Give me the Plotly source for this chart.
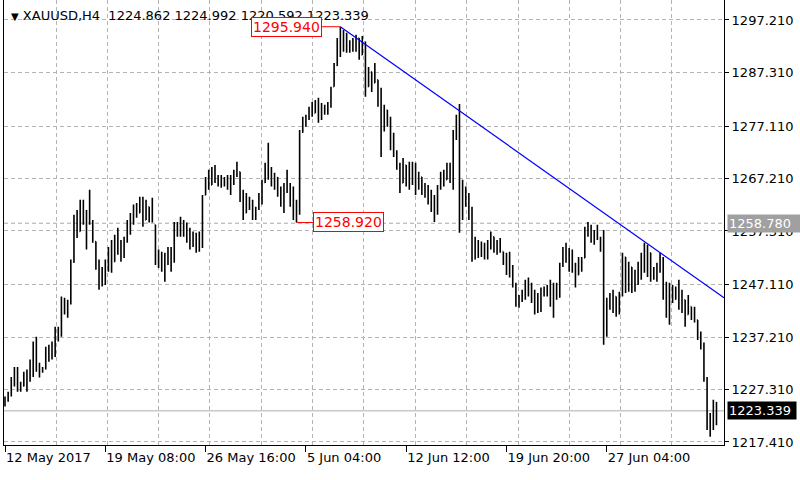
import plotly.graph_objects as go

# XAUUSD H4 bars (oldest first)
symbol = "XAUUSD"
timeframe = "H4"

bar_open = [
    1224.5, 1225.6, 1226.5, 1229.2, 1228.5, 1228.6, 1228.0, 1230.1, 1229.0, 1232.5,
    1235.6, 1231.4, 1230.8, 1231.3, 1234.6, 1233.5, 1235.9, 1238.7, 1237.6, 1243.8,
    1242.3, 1243.9, 1251.4, 1258.8, 1257.2, 1262.0, 1259.6, 1259.3, 1259.0, 1255.3,
    1251.2, 1247.3, 1249.8, 1250.6, 1253.5, 1251.5, 1255.9, 1253.6, 1254.9, 1255.7,
    1258.7, 1259.9, 1261.5, 1260.7, 1263.1, 1259.4, 1261.9, 1259.8, 1258.5, 1251.8,
    1252.9, 1250.4, 1252.6, 1251.6, 1253.8, 1258.3, 1257.0, 1258.9, 1257.4, 1256.2,
    1254.6, 1256.3, 1254.2, 1255.0, 1264.1, 1266.9, 1266.0, 1268.7, 1266.9, 1267.2,
    1266.1, 1267.0, 1265.6, 1267.3, 1268.2, 1268.5, 1263.5, 1260.7, 1263.6, 1261.8,
    1260.2, 1261.5, 1263.9, 1266.5, 1269.3, 1268.2, 1266.6, 1267.4, 1264.5, 1263.0,
    1265.8, 1265.0, 1262.6, 1260.8, 1261.0, 1276.0, 1278.1, 1278.5, 1280.2, 1279.6,
    1281.5, 1279.0, 1280.9, 1280.0, 1281.2, 1284.6, 1288.6, 1293.1, 1291.4, 1294.2,
    1291.9, 1292.9, 1292.0, 1293.8, 1290.6, 1293.1, 1284.6, 1287.4, 1285.3, 1285.9,
    1281.6, 1277.2, 1280.2, 1278.0, 1273.2, 1271.9, 1269.5, 1266.4, 1269.8, 1266.8,
    1269.6, 1266.9, 1265.3, 1267.5, 1264.9, 1265.7, 1263.0, 1261.8, 1263.2, 1265.4,
    1267.8, 1267.0, 1269.6, 1267.2, 1275.6, 1278.4, 1262.3, 1265.2, 1262.6, 1260.3,
    1252.6, 1255.4, 1253.1, 1254.6, 1252.7, 1255.0, 1256.2, 1254.0, 1255.1, 1253.4,
    1251.5, 1252.7, 1249.3, 1247.2, 1243.6, 1244.6, 1245.7, 1247.4, 1245.6, 1244.2,
    1242.3, 1244.9, 1245.8, 1245.3, 1246.6, 1243.8, 1246.8, 1245.0, 1250.8, 1253.7,
    1252.0, 1253.3, 1250.1, 1249.0, 1251.8, 1252.2, 1257.4, 1258.2, 1255.9, 1256.8,
    1255.8, 1254.3, 1238.2, 1243.9, 1243.0, 1244.9, 1242.2, 1245.1, 1252.4, 1246.5,
    1250.5, 1246.4, 1249.2, 1250.7, 1252.5, 1250.3, 1253.2, 1248.6, 1249.9, 1250.6,
    1252.1, 1245.0, 1242.1, 1246.3, 1244.4, 1246.0, 1243.2, 1244.3, 1241.5, 1243.0,
    1241.2, 1240.5, 1237.5, 1235.6, 1229.5, 1220.8, 1222.1, 1224.862,
]
bar_high = [
    1226.0, 1226.9, 1229.7, 1231.6, 1231.6, 1228.8, 1230.7, 1231.1, 1233.0, 1236.4,
    1237.3, 1232.4, 1231.6, 1235.4, 1235.8, 1236.4, 1239.2, 1239.2, 1244.9, 1244.7,
    1244.3, 1251.9, 1260.4, 1261.3, 1263.2, 1263.2, 1261.3, 1265.1, 1259.4, 1255.3,
    1251.9, 1250.5, 1251.9, 1254.3, 1255.6, 1256.6, 1257.9, 1255.6, 1256.2, 1259.4,
    1260.7, 1262.3, 1262.6, 1263.8, 1263.8, 1263.2, 1261.9, 1263.6, 1258.5, 1253.8,
    1253.4, 1253.2, 1254.3, 1254.3, 1259.0, 1259.0, 1260.0, 1259.4, 1258.9, 1257.9,
    1257.2, 1257.0, 1257.2, 1264.1, 1267.5, 1268.9, 1269.4, 1269.8, 1267.9, 1267.9,
    1267.5, 1267.9, 1267.9, 1268.9, 1270.4, 1268.5, 1265.1, 1264.5, 1263.8, 1263.2,
    1261.9, 1264.5, 1267.0, 1270.2, 1274.0, 1269.4, 1268.3, 1267.5, 1265.7, 1266.4,
    1268.9, 1266.4, 1265.7, 1263.2, 1276.4, 1278.9, 1279.3, 1280.8, 1281.7, 1282.1,
    1282.5, 1281.5, 1281.2, 1281.7, 1284.6, 1289.1, 1293.8, 1295.94, 1295.3, 1294.8,
    1293.4, 1293.8, 1294.4, 1293.8, 1294.2, 1293.1, 1288.3, 1287.4, 1289.1, 1285.9,
    1284.4, 1281.2, 1280.2, 1278.9, 1275.9, 1272.6, 1270.2, 1271.1, 1269.8, 1270.4,
    1270.4, 1270.2, 1268.5, 1267.5, 1266.4, 1266.0, 1265.1, 1264.1, 1266.0, 1268.5,
    1268.9, 1270.2, 1270.2, 1276.4, 1279.3, 1281.3, 1267.0, 1265.7, 1264.5, 1261.9,
    1256.2, 1255.6, 1255.3, 1255.1, 1255.6, 1257.2, 1256.2, 1255.6, 1256.0, 1253.4,
    1253.2, 1253.4, 1250.9, 1247.5, 1245.2, 1246.2, 1248.1, 1248.5, 1247.5, 1246.2,
    1245.6, 1246.6, 1246.8, 1247.1, 1248.1, 1247.5, 1247.5, 1251.3, 1254.3, 1255.1,
    1254.1, 1253.8, 1251.3, 1252.4, 1252.4, 1258.1, 1259.0, 1258.5, 1257.5, 1258.5,
    1256.2, 1257.5, 1244.7, 1245.6, 1246.2, 1244.9, 1245.8, 1253.2, 1252.4, 1251.5,
    1250.5, 1250.0, 1251.5, 1253.2, 1255.1, 1254.7, 1253.2, 1250.5, 1251.3, 1253.2,
    1252.4, 1247.7, 1247.5, 1247.1, 1246.8, 1248.1, 1246.2, 1244.3, 1245.2, 1243.0,
    1243.0, 1240.5, 1238.3, 1236.2, 1229.7, 1222.9, 1225.4, 1224.992,
]
bar_low = [
    1224.1, 1225.0, 1226.0, 1227.9, 1226.9, 1226.9, 1227.9, 1226.9, 1228.8, 1229.7,
    1230.7, 1229.6, 1230.5, 1231.1, 1232.6, 1233.0, 1233.5, 1236.4, 1237.3, 1241.5,
    1240.9, 1243.4, 1251.3, 1256.0, 1257.2, 1258.5, 1253.8, 1258.5, 1255.1, 1250.0,
    1246.2, 1246.8, 1247.1, 1249.6, 1249.4, 1251.5, 1252.8, 1251.5, 1252.2, 1255.1,
    1256.6, 1258.5, 1259.8, 1260.7, 1258.1, 1259.4, 1258.9, 1258.9, 1250.9, 1250.3,
    1249.6, 1247.7, 1250.9, 1249.6, 1251.3, 1256.2, 1256.2, 1256.2, 1255.1, 1253.8,
    1254.3, 1253.2, 1253.4, 1254.1, 1264.1, 1265.1, 1266.0, 1266.4, 1265.7, 1265.5,
    1265.7, 1265.1, 1264.1, 1266.0, 1267.5, 1262.8, 1259.4, 1260.7, 1261.3, 1259.4,
    1259.4, 1261.3, 1262.3, 1266.4, 1267.0, 1265.7, 1265.1, 1263.8, 1261.9, 1260.7,
    1264.5, 1261.9, 1259.4, 1258.92, 1260.4, 1275.9, 1277.0, 1278.3, 1278.9, 1279.6,
    1277.8, 1278.3, 1279.3, 1279.3, 1280.6, 1284.6, 1288.5, 1290.2, 1291.2, 1291.0,
    1291.0, 1291.2, 1291.2, 1289.7, 1290.6, 1282.7, 1284.6, 1283.6, 1285.3, 1280.8,
    1271.3, 1276.1, 1277.0, 1272.6, 1271.3, 1268.9, 1264.5, 1266.4, 1265.7, 1265.1,
    1266.0, 1264.1, 1265.1, 1264.1, 1263.6, 1262.3, 1260.9, 1259.0, 1260.4, 1265.1,
    1265.7, 1267.0, 1266.4, 1265.1, 1274.5, 1257.0, 1259.4, 1261.9, 1259.4, 1251.5,
    1251.9, 1252.2, 1252.4, 1251.9, 1251.9, 1253.8, 1253.2, 1252.8, 1253.2, 1250.9,
    1249.0, 1248.5, 1246.6, 1243.0, 1242.8, 1243.9, 1244.3, 1244.9, 1243.7, 1241.5,
    1241.8, 1242.0, 1244.9, 1244.9, 1243.0, 1240.9, 1244.3, 1244.7, 1250.5, 1251.3,
    1249.6, 1249.4, 1246.6, 1249.0, 1249.6, 1252.2, 1256.2, 1255.1, 1254.7, 1255.6,
    1253.4, 1235.8, 1237.3, 1242.4, 1241.8, 1241.1, 1241.5, 1244.9, 1245.6, 1245.8,
    1245.6, 1245.8, 1247.1, 1248.1, 1249.4, 1248.6, 1247.7, 1248.1, 1247.7, 1249.4,
    1244.3, 1240.9, 1239.6, 1243.7, 1244.3, 1242.4, 1241.8, 1239.2, 1241.5, 1240.5,
    1240.0, 1236.7, 1234.9, 1228.8, 1219.7, 1218.4, 1219.7, 1220.592,
]
bar_close = [
    1225.6, 1226.5, 1229.2, 1228.5, 1230.8, 1227.4, 1230.1, 1228.4, 1232.5, 1235.6,
    1231.4, 1230.3, 1231.3, 1234.6, 1233.5, 1235.9, 1238.7, 1237.6, 1243.8, 1242.3,
    1243.9, 1251.4, 1258.8, 1257.2, 1262.0, 1259.6, 1259.3, 1259.0, 1255.6, 1251.2,
    1247.3, 1249.8, 1250.6, 1253.5, 1250.8, 1255.9, 1253.6, 1254.9, 1255.7, 1258.7,
    1259.9, 1261.5, 1260.6, 1263.1, 1259.2, 1262.4, 1259.8, 1259.4, 1251.8, 1252.9,
    1250.4, 1252.6, 1251.6, 1253.8, 1258.3, 1257.0, 1258.9, 1257.4, 1256.2, 1254.6,
    1256.3, 1254.2, 1255.0, 1263.4, 1266.9, 1265.8, 1268.7, 1266.9, 1267.2, 1266.1,
    1267.0, 1265.6, 1267.3, 1268.2, 1269.1, 1263.5, 1260.5, 1263.6, 1261.8, 1260.2,
    1261.5, 1263.9, 1266.5, 1269.3, 1268.2, 1266.6, 1267.4, 1264.5, 1263.0, 1265.8,
    1265.0, 1262.6, 1260.8, 1261.0, 1276.0, 1278.1, 1278.5, 1280.2, 1279.6, 1281.5,
    1279.0, 1280.9, 1280.0, 1281.2, 1284.2, 1288.6, 1293.1, 1291.4, 1294.2, 1291.9,
    1292.9, 1292.0, 1293.9, 1290.5, 1293.4, 1284.0, 1287.5, 1284.4, 1288.2, 1281.6,
    1277.2, 1280.4, 1278.0, 1273.2, 1271.9, 1269.5, 1266.2, 1270.3, 1266.8, 1269.6,
    1266.9, 1265.3, 1267.6, 1264.9, 1265.7, 1263.0, 1261.8, 1263.2, 1265.4, 1267.8,
    1266.3, 1269.6, 1267.2, 1275.6, 1278.4, 1262.3, 1265.2, 1262.6, 1260.3, 1252.6,
    1255.4, 1253.1, 1254.6, 1252.7, 1255.0, 1256.5, 1254.0, 1255.1, 1253.6, 1251.5,
    1252.7, 1249.3, 1247.2, 1243.6, 1244.6, 1245.7, 1247.4, 1245.6, 1244.2, 1242.3,
    1244.9, 1245.8, 1245.3, 1246.6, 1243.8, 1246.8, 1245.0, 1250.8, 1253.7, 1252.0,
    1253.3, 1250.1, 1247.6, 1251.8, 1252.0, 1257.4, 1258.2, 1255.9, 1256.8, 1255.8,
    1254.3, 1238.2, 1243.9, 1243.0, 1245.5, 1242.2, 1245.1, 1252.4, 1246.5, 1250.6,
    1246.4, 1249.2, 1250.7, 1252.5, 1250.3, 1253.9, 1248.6, 1249.9, 1250.6, 1252.1,
    1245.0, 1242.1, 1246.3, 1244.4, 1246.0, 1243.2, 1244.6, 1240.1, 1244.0, 1241.2,
    1240.6, 1237.5, 1235.6, 1229.5, 1220.8, 1222.1, 1224.9, 1223.339,
]

# time axis labels (every 32 bars)
time_ticks = [0, 32, 64, 96, 128, 160, 192]
time_labels = ["12 May 2017", "19 May 08:00", "26 May 16:00", "5 Jun 04:00",
               "12 Jun 12:00", "19 Jun 20:00", "27 Jun 04:00"]

price_ticks = [1297.21, 1287.31, 1277.11, 1267.21, 1257.31, 1247.11, 1237.21, 1227.31, 1217.41]

# objects drawn on the chart
peak_bar, peak_price = 107, 1295.94
low_bar, low_price = 93, 1258.92
level_price = 1258.78
trend_x = [107, 229.4]
trend_y = [1295.94, 1244.67]

# vertical grid (terminal draws it on a fixed pixel step)
grid_x = [16.3, 32.7, 49.0, 65.4, 81.8, 98.2, 114.5, 130.9, 147.3, 163.7, 180.0, 196.4, 212.8]

FONT = "DejaVu Sans"
GRID = "#b4b4b4"
DASH = "4px,3px"

bars = list(range(len(bar_close)))
bid = bar_close[-1]

fig = go.Figure()

fig.add_trace(go.Ohlc(
    x=bars, open=bar_open, high=bar_high, low=bar_low, close=bar_close,
    increasing=dict(line=dict(color="black", width=1.6)),
    decreasing=dict(line=dict(color="black", width=1.6)),
    tickwidth=0.25, hoverinfo="skip", showlegend=False,
))

# trend line
fig.add_trace(go.Scatter(
    x=trend_x, y=trend_y, mode="lines",
    line=dict(color="#0000ff", width=1.2),
    hoverinfo="skip", showlegend=False,
))

# horizontal level + bid line
fig.add_shape(type="line", xref="paper", x0=0, x1=1, yref="y", y0=level_price, y1=level_price,
              line=dict(color="#a8a8a8", width=1, dash=DASH), layer="below")
fig.add_shape(type="line", xref="paper", x0=0, x1=1, yref="y", y0=bid, y1=bid,
              line=dict(color="#c8c8c8", width=1.5), layer="below")

header = (f"<span style='font-size:10px'>▼</span> {symbol},{timeframe}\u00a0\u00a0"
          f"{bar_open[-1]:.3f} {bar_high[-1]:.3f} {bar_low[-1]:.3f} {bar_close[-1]:.3f}")
fig.add_annotation(xref="paper", yref="paper", x=0, y=1, xanchor="left", yanchor="top",
                   xshift=5, yshift=-6, text=header, showarrow=False,
                   font=dict(family=FONT, size=13, color="#000000"))

# price labels on the chart
for bar_i, price, dx in [(peak_bar, peak_price, -54), (low_bar, low_price, 52)]:
    fig.add_annotation(x=bar_i, y=price, text=f"{price:.3f}", showarrow=True,
                       arrowhead=0, arrowwidth=1, arrowcolor="#ff0000", ax=dx, ay=0,
                       font=dict(family=FONT, size=14, color="#ff0000"),
                       bgcolor="white", bordercolor="#ff0000", borderwidth=1, borderpad=1)

# labels on the price scale
fig.add_annotation(xref="paper", x=1, yref="y", y=level_price, xanchor="left", xshift=3,
                   text=f"{level_price:.3f}", showarrow=False, bgcolor="#a0a0a0",
                   width=72, align="left",
                   font=dict(family=FONT, size=13, color="white"), borderpad=1)
fig.add_annotation(xref="paper", x=1, yref="y", y=bid, xanchor="left", xshift=3,
                   text=f"{bid:.3f}", showarrow=False, bgcolor="#000000",
                   width=66, align="left",
                   font=dict(family=FONT, size=13, color="white"), borderpad=1)

fig.update_layout(
    width=800, height=480,
    margin=dict(l=4, r=76, t=0, b=35),
    paper_bgcolor="white", plot_bgcolor="white",
    showlegend=False,
    xaxis=dict(
        range=[-0.32, 229.4], rangeslider=dict(visible=False),
        tickmode="array", tickvals=time_ticks, ticktext=time_labels,
        ticks="outside", ticklen=6, tickcolor="black", ticklabelposition="outside right",
        showline=True, linecolor="black", linewidth=1,
        showgrid=False, zeroline=False,
        tickfont=dict(family=FONT, size=13, color="black"),
        minor=dict(tickmode="array", tickvals=grid_x, showgrid=True, gridcolor=GRID,
                   griddash=DASH, gridwidth=1, ticks=""),
    ),
    yaxis=dict(
        side="right", range=[1216.84, 1300.99],
        tickmode="array", tickvals=price_ticks, ticktext=[f"{p:.3f}" for p in price_ticks],
        ticks="outside", ticklen=4, tickcolor="black",
        showline=True, mirror=True, linecolor="black", linewidth=1,
        showgrid=True, gridcolor=GRID, griddash=DASH, gridwidth=1, zeroline=False,
        tickfont=dict(family=FONT, size=13, color="black"),
    ),
)

# page body has a default 8px margin; drop it so the chart sits at the window corner
fig.write_html("out.html", config={"displayModeBar": False},
               post_script="document.body.style.margin='0';")
